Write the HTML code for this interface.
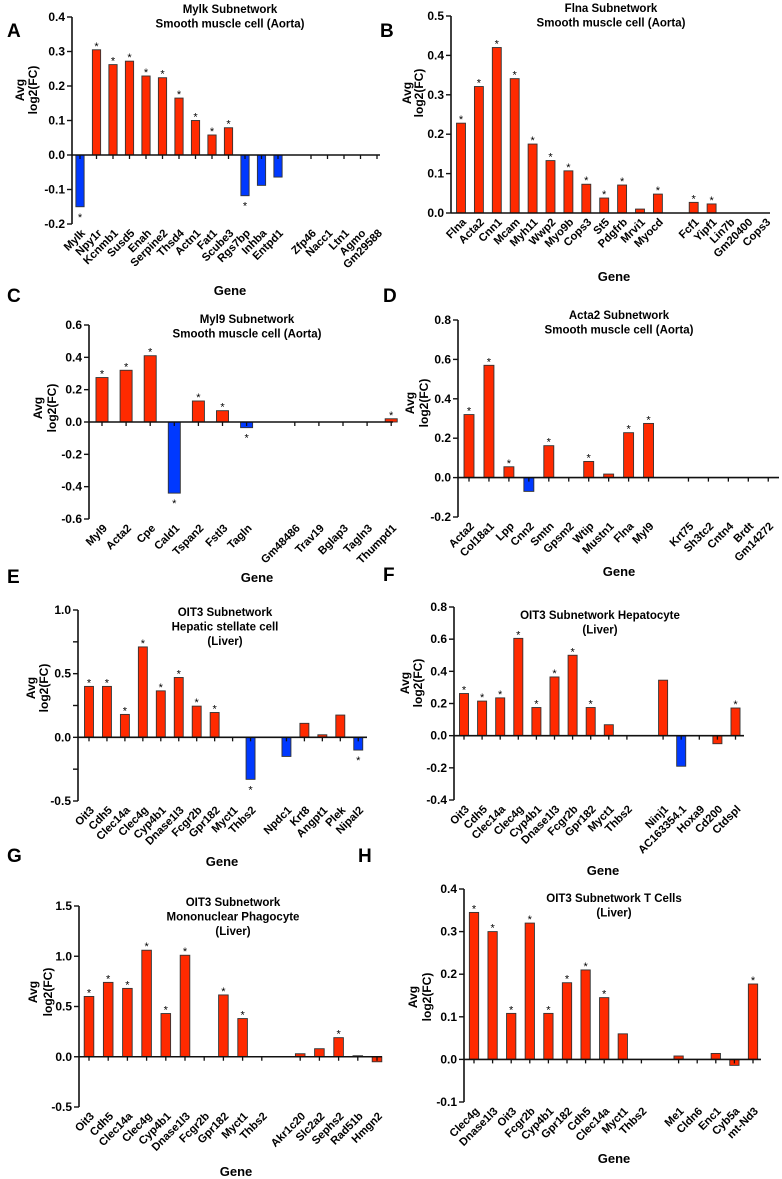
<!DOCTYPE html>
<html><head><meta charset="utf-8">
<style>
html,body{margin:0;padding:0;background:#fff;}
svg{display:block;font-family:"Liberation Sans",Arial,sans-serif;font-weight:bold;}
</style></head>
<body>
<svg id="fig" width="782" height="1179" viewBox="0 0 782 1179" xmlns="http://www.w3.org/2000/svg"></svg>
<script>
// ---- Panel A ----
const catsA = ["Mylk","Npy1r","Kcnmb1","Susd5","Enah","Serpine2","Thsd4","Actn1","Fat1","Scube3","Rgs7bp","Inhba","Entpd1","","Zfp46","Nacc1","Ltn1","Agmo","Gm29588"];
const valsA = [-0.15,0.305,0.262,0.272,0.229,0.224,0.165,0.1,0.058,0.079,-0.118,-0.088,-0.064,null,0,0,0,0,0];
const sigA  = [1,1,1,1,1,1,1,1,1,1,1,0,0,0,0,0,0,0,0];
const ticksA = [-0.2,-0.1,0.0,0.1,0.2,0.3,0.4];
const tickLabelsA = ["-0.2","-0.1","0.0","0.1","0.2","0.3","0.4"];
// ---- Panel B ----
const catsB = ["Flna","Acta2","Cnn1","Mcam","Myh11","Wwp2","Myo9b","Cops3","St5","Pdgfrb","Mrvi1","Myocd","","Fcf1","Yipf1","Lin7b","Gm20400","Cops3"];
const valsB = [0.228,0.321,0.42,0.341,0.175,0.133,0.107,0.073,0.038,0.071,0.01,0.048,null,0.027,0.023,0,0,0];
const sigB  = [1,1,1,1,1,1,1,1,1,1,0,1,0,1,1,0,0,0];
const ticksB = [0,0.1,0.2,0.3,0.4,0.5];
const tickLabelsB = ["0.0","0.1","0.2","0.3","0.4","0.5"];
// ---- Panel C ----
const catsC = ["Myl9","Acta2","Cpe","Cald1","Tspan2","Fstl3","Tagln","","Gm48486","Trav19","Bglap3","Tagln3","Thumpd1"];
const valsC = [0.275,0.32,0.41,-0.44,0.13,0.07,-0.035,null,0,0,0,0,0.02];
const sigC  = [1,1,1,1,1,1,1,0,0,0,0,0,1];
const ticksC = [-0.6,-0.4,-0.2,0,0.2,0.4,0.6];
const tickLabelsC = ["-0.6","-0.4","-0.2","0.0","0.2","0.4","0.6"];
// ---- Panel D ----
const catsD = ["Acta2","Col18a1","Lpp","Cnn2","Smtn","Gpsm2","Wtip","Mustn1","Flna","Myl9","","Krt75","Sh3tc2","Cntn4","Brdt","Gm14272"];
const valsD = [0.32,0.57,0.055,-0.07,0.162,0,0.082,0.018,0.228,0.275,null,0,0,0,0,0];
const sigD  = [1,1,1,0,1,0,1,0,1,1,0,0,0,0,0,0];
const ticksD = [-0.2,0,0.2,0.4,0.6,0.8];
const tickLabelsD = ["-0.2","0.0","0.2","0.4","0.6","0.8"];
// ---- Panel E ----
const catsE = ["Oit3","Cdh5","Clec14a","Clec4g","Cyp4b1","Dnase1l3","Fcgr2b","Gpr182","Myct1","Thbs2","","Npdc1","Krt8","Angpt1","Plek","Nipal2"];
const valsE = [0.4,0.4,0.18,0.71,0.365,0.47,0.245,0.195,0,-0.33,null,-0.15,0.11,0.02,0.175,-0.1];
const sigE  = [1,1,1,1,1,1,1,1,0,1,0,0,0,0,0,1];
const ticksE = [-0.5,-0.25,0,0.25,0.5,0.75,1.0];
const tickLabelsE = ["-0.5","","0.0","","0.5","","1.0"];
// ---- Panel F ----
const catsF = ["Oit3","Cdh5","Clec14a","Clec4g","Cyp4b1","Dnase1l3","Fcgr2b","Gpr182","Myct1","Thbs2","","Ninj1","AC163354.1","Hoxa9","Cd200","Ctdspl"];
const valsF = [0.262,0.215,0.235,0.605,0.175,0.365,0.5,0.175,0.068,0,null,0.345,-0.19,0,-0.05,0.172];
const sigF  = [1,1,1,1,1,1,1,1,0,0,0,0,0,0,0,1];
const ticksF = [-0.4,-0.2,0,0.2,0.4,0.6,0.8];
const tickLabelsF = ["-0.4","-0.2","0.0","0.2","0.4","0.6","0.8"];
// ---- Panel G ----
const catsG = ["Oit3","Cdh5","Clec14a","Clec4g","Cyp4b1","Dnase1l3","Fcgr2b","Gpr182","Myct1","Thbs2","","Akr1c20","Slc2a2","Sephs2","Rad51b","Hmgn2"];
const valsG = [0.6,0.74,0.68,1.06,0.43,1.01,0,0.615,0.38,0,null,0.03,0.08,0.19,0.01,-0.05];
const sigG  = [1,1,1,1,1,1,0,1,1,0,0,0,0,1,0,0];
const ticksG = [-0.5,0,0.5,1.0,1.5];
const tickLabelsG = ["-0.5","0.0","0.5","1.0","1.5"];
// ---- Panel H ----
const catsH = ["Clec4g","Dnase1l3","Oit3","Fcgr2b","Cyp4b1","Gpr182","Cdh5","Clec14a","Myct1","Thbs2","","Me1","Cldn6","Enc1","Cyb5a","mt-Nd3"];
const valsH = [0.345,0.3,0.108,0.32,0.108,0.18,0.21,0.145,0.06,0,null,0.008,0,0.014,-0.014,0.177];
const sigH  = [1,1,1,1,1,1,1,1,0,0,0,0,0,0,0,1];
const ticksH = [-0.1,0,0.1,0.2,0.3,0.4];
const tickLabelsH = ["-0.1","0.0","0.1","0.2","0.3","0.4"];

const NS = "http://www.w3.org/2000/svg";
const svg = document.getElementById("fig");
const RED = "#ff2a00", BLUE = "#0039ff";

function mk(tag, attrs, parent, text) {
  const e = document.createElementNS(NS, tag);
  for (const k in attrs) e.setAttribute(k, attrs[k]);
  if (text !== undefined) e.textContent = text;
  (parent || svg).appendChild(e);
  return e;
}

function panel(cfg) {
  const g = mk("g", {});
  
  
  const {cats, vals, sig, ticks, tickLabels} = cfg;
  const ymin = ticks[0], ymax = ticks[ticks.length - 1];
  const yS = v => cfg.bottom - (v - ymin) / (ymax - ymin) * (cfg.bottom - cfg.top);
  const xS = i => cfg.x0 + i * cfg.step;
  const zy = yS(0);
  const bw = cfg.step * 0.5;

  const L = mk("text", {x: cfg.letter[0], y: cfg.letter[1], "font-size": 19}, g, cfg.letterText);
  
  

  cfg.title.forEach((t, k) => {
    const T = mk("text", {x: cfg.titleX, y: cfg.titleY + k * 14.5, "font-size": 11.5, "text-anchor": "middle"}, g, t);
    
    
  });

  vals.forEach((v, i) => {
    if (v === null) return;
    const cx = xS(i);
    if (v !== 0) {
      const y1 = Math.min(yS(v), zy), h = Math.abs(yS(v) - zy);
      const col = (v < 0 && !cfg.redNeg.includes(i)) ? BLUE : RED;
      const r = mk("rect", {x: cx - bw / 2, y: y1, width: bw, height: Math.max(h, 1), fill: col, stroke: "#333", "stroke-width": 0.9}, g);
      
      
    }
    if (sig[i]) {
      const sy = v >= 0 ? yS(v) - 3 : yS(v) + 11;
      const s = mk("text", {x: cx, y: sy + 3, "font-size": 11, "text-anchor": "middle", "font-weight": "normal"}, g, "*");
      
      
    }
  });

  const ya = mk("line", {x1: cfg.axisX, y1: cfg.top, x2: cfg.axisX, y2: cfg.bottom, stroke: "#111", "stroke-width": 1.6}, g);
  
  
  ticks.forEach((t, k) => {
    const y = yS(t);
    mk("line", {x1: cfg.axisX - 5, y1: y, x2: cfg.axisX, y2: y, stroke: "#111", "stroke-width": 1.4}, g);
    if (tickLabels[k]) {
      const tl = mk("text", {x: cfg.axisX - 7, y: y + 4, "font-size": 12, "text-anchor": "end"}, g, tickLabels[k]);
      
      
    }
  });
  const xa = mk("line", {x1: cfg.axisX, y1: zy, x2: cfg.right, y2: zy, stroke: "#111", "stroke-width": 1.6}, g);
  
  
  cats.forEach((c, i) => {
    if (!c) return;
    const cx = xS(i);
    if (cfg.xticks) mk("line", {x1: cx, y1: zy, x2: cx, y2: zy + 4, stroke: "#111", "stroke-width": 1.3}, g);
    const ly = cfg.bottom + 7;
    const t = mk("text", {x: cx + 3, y: ly + 4, "font-size": 11.2, "text-anchor": "end", transform: `rotate(-45 ${cx + 3} ${ly})`}, g, c);
    
    
  });

  const yl = mk("g", {transform: `translate(${cfg.ylab[0]} ${cfg.ylab[2]}) rotate(-90)`}, g);
  
  
  mk("text", {x: 0, y: 4, "font-size": 12, "text-anchor": "middle"}, yl, "Avg");
  mk("text", {x: 0, y: 4 + (cfg.ylab[1] - cfg.ylab[0]), "font-size": 12, "text-anchor": "middle"}, yl, "log2(FC)");

  const xl = mk("text", {x: cfg.gene[0], y: cfg.gene[1], "font-size": 13, "text-anchor": "middle"}, g, "Gene");
  
  
}

panel({name:"panel-a-mylk", letterText:"A", letter:[7,37], cats:catsA, vals:valsA, sig:sigA, ticks:ticksA, tickLabels:tickLabelsA,
  top:17, bottom:224, axisX:72, right:380, x0:80, step:16.5, xticks:true, redNeg:[],
  title:["Mylk Subnetwork","Smooth muscle cell (Aorta)"], titleX:230, titleY:13, ylab:[20,33,90], gene:[230,295]});
panel({name:"panel-b-flna", letterText:"B", letter:[380,37], cats:catsB, vals:valsB, sig:sigB, ticks:ticksB, tickLabels:tickLabelsB,
  top:16, bottom:213, axisX:451, right:770, x0:461, step:17.9, xticks:false, redNeg:[],
  title:["Flna Subnetwork","Smooth muscle cell (Aorta)"], titleX:611, titleY:12, ylab:[407,419,93], gene:[614,281]});
panel({name:"panel-c-myl9", letterText:"C", letter:[7,302], cats:catsC, vals:valsC, sig:sigC, ticks:ticksC, tickLabels:tickLabelsC,
  top:325, bottom:519, axisX:89, right:393, x0:102, step:24.1, xticks:true, redNeg:[],
  title:["Myl9 Subnetwork","Smooth muscle cell (Aorta)"], titleX:247, titleY:323, ylab:[38,52,408], gene:[257,582]});
panel({name:"panel-d-acta2", letterText:"D", letter:[383,302], cats:catsD, vals:valsD, sig:sigD, ticks:ticksD, tickLabels:tickLabelsD,
  top:320, bottom:517, axisX:458, right:779, x0:469, step:19.95, xticks:true, redNeg:[],
  title:["Acta2 Subnetwork","Smooth muscle cell (Aorta)"], titleX:619, titleY:319, ylab:[410,424,403], gene:[619,576]});
panel({name:"panel-e-oit3-stellate", letterText:"E", letter:[7,583], cats:catsE, vals:valsE, sig:sigE, ticks:ticksE, tickLabels:tickLabelsE,
  top:610, bottom:801, axisX:78, right:367, x0:89, step:17.95, xticks:true, redNeg:[],
  title:["OIT3 Subnetwork","Hepatic stellate cell","(Liver)"], titleX:225, titleY:616, ylab:[31,44,688], gene:[222,866]});
panel({name:"panel-f-oit3-hepatocyte", letterText:"F", letter:[383,581], cats:catsF, vals:valsF, sig:sigF, ticks:ticksF, tickLabels:tickLabelsF,
  top:607, bottom:800, axisX:454, right:744, x0:464, step:18.1, xticks:true, redNeg:[14],
  title:["OIT3 Subnetwork Hepatocyte","(Liver)"], titleX:600, titleY:619, ylab:[405,418,683], gene:[603,875]});
panel({name:"panel-g-oit3-phagocyte", letterText:"G", letter:[7,862], cats:catsG, vals:valsG, sig:sigG, ticks:ticksG, tickLabels:tickLabelsG,
  top:906, bottom:1107, axisX:79, right:382, x0:89, step:19.2, xticks:true, redNeg:[15],
  title:["OIT3 Subnetwork","Mononuclear Phagocyte","(Liver)"], titleX:233, titleY:906, ylab:[33,48,992], gene:[236,1176]});
panel({name:"panel-h-oit3-tcells", letterText:"H", letter:[358,862], cats:catsH, vals:valsH, sig:sigH, ticks:ticksH, tickLabels:tickLabelsH,
  top:889, bottom:1102, axisX:464, right:761, x0:474, step:18.6, xticks:true, redNeg:[14],
  title:["OIT3 Subnetwork T Cells","(Liver)"], titleX:614, titleY:902, ylab:[413,427,997], gene:[614,1163]});
</script>
</body></html>
